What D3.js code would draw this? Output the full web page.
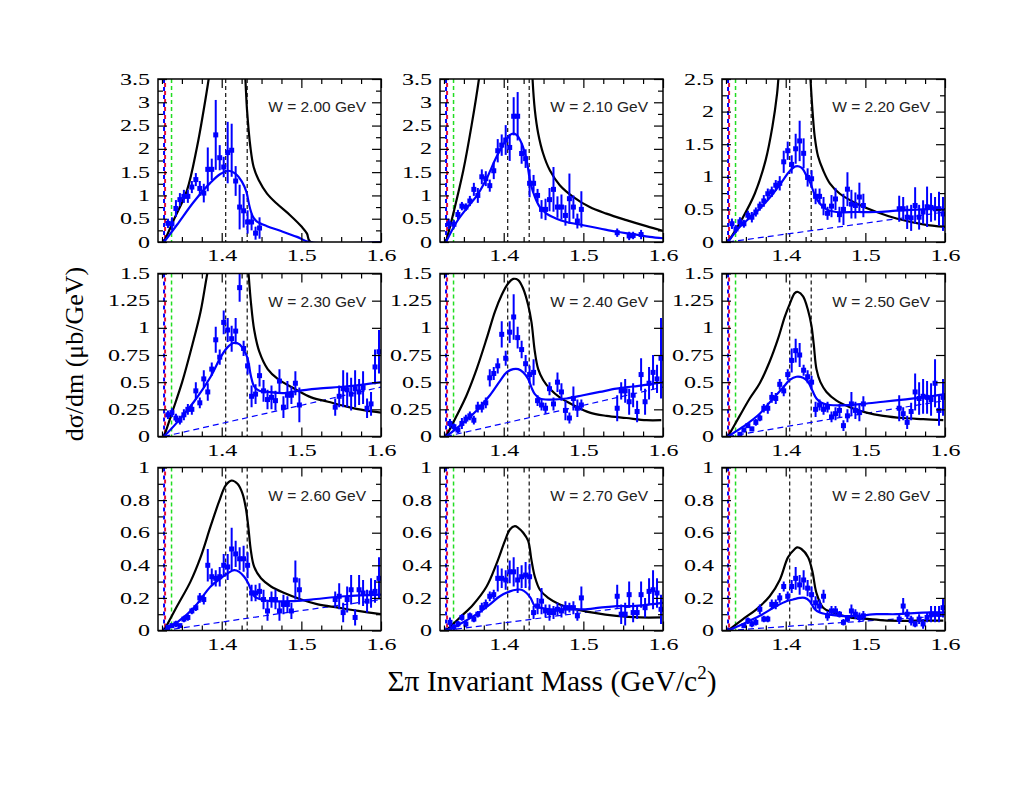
<!DOCTYPE html>
<html><head><meta charset="utf-8">
<script src="https://cdn.jsdelivr.net/npm/d3@7"></script>
<style>body{margin:0;background:#fff}</style>
</head><body>
<svg id="c" width="1024" height="788"></svg>
<script>
// ---------- DATA ----------
const wLabels = ["W = 2.00 GeV","W = 2.10 GeV","W = 2.20 GeV","W = 2.30 GeV","W = 2.40 GeV","W = 2.50 GeV","W = 2.60 GeV","W = 2.70 GeV","W = 2.80 GeV"];
const yMaxes = [3.5,3.5,2.5,1.5,1.5,1.5,1,1,1];
const xTickValues = [1.4,1.5,1.6];
const xTickLabels = ["1.4","1.5","1.6"];
const xMinorValues = [1.325,1.35,1.375,1.425,1.45,1.475,1.525,1.55,1.575];
const yTicks35 = [0,0.5,1,1.5,2,2.5,3,3.5];
const yLabels35 = ["0","0.5","1","1.5","2","2.5","3","3.5"];
const yMinor35 = [0.25,0.75,1.25,1.75,2.25,2.75,3.25];
const yTicks25 = [0,0.5,1,1.5,2,2.5];
const yLabels25 = ["0","0.5","1","1.5","2","2.5"];
const yMinor25 = [0.25,0.75,1.25,1.75,2.25];
const yTicks15 = [0,0.25,0.5,0.75,1,1.25,1.5];
const yLabels15 = ["0","0.25","0.5","0.75","1","1.25","1.5"];
const yMinor15 = [];
const yTicks10 = [0,0.2,0.4,0.6,0.8,1];
const yLabels10 = ["0","0.2","0.4","0.6","0.8","1"];
const yMinor10 = [0.1,0.3,0.5,0.7,0.9];
// thresholds (GeV): Sigma0 pi0, Sigma+ pi-, Sigma- pi+ ; Lambda(1405), KbarN
const thrSigma0Pi0 = 1.3276, thrSigmaPlusPiMinus = 1.3289, thrSigmaMinusPiPlus = 1.3370;
const markLines = [1.405, 1.432];

// data points [mass, dsigma/dm, error]
const pts200 = [[1.3325,0.40,0.10],[1.3375,0.39,0.14],[1.3425,0.72,0.18],[1.3475,0.91,0.14],[1.3525,0.98,0.14],[1.3575,0.98,0.14],[1.3625,1.18,0.13],[1.3675,1.34,0.14],[1.3725,1.15,0.16],[1.3775,1.05,0.20],[1.3825,1.56,0.47],[1.3875,1.56,0.23],[1.3925,2.30,0.75],[1.3975,1.81,0.27],[1.4025,1.61,0.22],[1.4075,1.92,0.66],[1.4125,1.97,0.57],[1.4175,1.31,0.32],[1.4225,0.75,0.48],[1.4275,0.67,0.36],[1.4325,0.43,0.25],[1.4375,0.43,0.18],[1.4425,0.19,0.14],[1.4475,0.30,0.23]];
const pts210 = [[1.331,0.39,0.11],[1.3375,0.38,0.09],[1.3425,0.59,0.10],[1.3475,0.77,0.09],[1.3525,0.75,0.08],[1.3575,0.88,0.11],[1.3625,1.13,0.14],[1.3675,1.00,0.16],[1.3725,1.40,0.16],[1.3775,1.36,0.16],[1.3825,1.21,0.13],[1.3875,1.53,0.18],[1.3925,1.96,0.25],[1.3975,2.08,0.23],[1.4025,2.19,0.32],[1.4075,2.03,0.29],[1.4125,2.70,0.41],[1.4175,2.70,0.52],[1.4225,1.90,0.22],[1.4275,1.79,0.20],[1.4325,1.26,0.30],[1.4375,1.26,0.18],[1.4425,1.00,0.14],[1.4475,0.70,0.20],[1.4525,0.70,0.23],[1.4575,0.91,0.25],[1.4625,1.13,0.48],[1.4675,0.75,0.23],[1.4725,0.75,0.27],[1.4775,0.57,0.22],[1.4825,0.93,0.54],[1.4875,0.75,0.25],[1.4925,0.45,0.16],[1.4975,0.70,0.39],[1.5425,0.20,0.09],[1.5575,0.13,0.09],[1.5625,0.14,0.08],[1.5725,0.16,0.10]];
const pts220 = [[1.3325,0.28,0.08],[1.3375,0.20,0.06],[1.3425,0.31,0.07],[1.3475,0.28,0.06],[1.3525,0.41,0.07],[1.3575,0.38,0.08],[1.3625,0.46,0.07],[1.3675,0.55,0.07],[1.3725,0.63,0.09],[1.3775,0.74,0.08],[1.3825,0.77,0.08],[1.3875,0.87,0.08],[1.3925,0.90,0.11],[1.3975,1.23,0.17],[1.4025,1.40,0.14],[1.4075,1.19,0.14],[1.4125,1.43,0.23],[1.4175,1.55,0.31],[1.4225,1.36,0.23],[1.4275,0.99,0.14],[1.4325,0.97,0.13],[1.4375,0.70,0.12],[1.4425,0.70,0.12],[1.4475,0.55,0.14],[1.4525,0.44,0.10],[1.4575,0.55,0.17],[1.4625,0.66,0.17],[1.4675,0.42,0.12],[1.4725,0.50,0.24],[1.4775,0.81,0.26],[1.4825,0.58,0.22],[1.4875,0.56,0.20],[1.4925,0.69,0.22],[1.4975,0.56,0.18],[1.5425,0.51,0.20],[1.5475,0.51,0.18],[1.5525,0.38,0.18],[1.5575,0.37,0.20],[1.5625,0.56,0.28],[1.5675,0.38,0.19],[1.5725,0.46,0.18],[1.5775,0.54,0.31],[1.5825,0.53,0.22],[1.5875,0.51,0.18],[1.5925,0.51,0.26],[1.5975,0.43,0.26]];
const pts230 = [[1.3325,0.20,0.04],[1.3375,0.22,0.04],[1.3425,0.17,0.04],[1.3475,0.15,0.04],[1.3525,0.20,0.05],[1.3575,0.25,0.05],[1.3625,0.25,0.05],[1.3675,0.42,0.08],[1.3725,0.31,0.05],[1.3775,0.53,0.08],[1.3825,0.41,0.08],[1.3875,0.62,0.06],[1.3925,0.89,0.12],[1.3975,0.73,0.07],[1.4025,1.05,0.11],[1.4075,0.98,0.11],[1.4125,0.90,0.12],[1.4175,0.97,0.12],[1.4225,1.37,0.13],[1.4275,0.81,0.07],[1.4325,0.65,0.08],[1.4375,0.37,0.10],[1.4425,0.39,0.09],[1.4475,0.56,0.10],[1.4525,0.42,0.10],[1.4575,0.34,0.09],[1.4625,0.36,0.11],[1.4675,0.33,0.09],[1.4725,0.51,0.11],[1.4775,0.27,0.10],[1.4825,0.38,0.13],[1.4875,0.38,0.08],[1.4925,0.49,0.11],[1.4975,0.29,0.16],[1.5425,0.27,0.08],[1.5475,0.37,0.10],[1.5525,0.44,0.17],[1.5575,0.43,0.16],[1.5625,0.39,0.15],[1.5675,0.44,0.17],[1.5725,0.41,0.12],[1.5775,0.45,0.15],[1.5825,0.26,0.09],[1.5875,0.30,0.11],[1.5925,0.64,0.16],[1.5975,0.78,0.20]];
const pts240 = [[1.3325,0.12,0.04],[1.3375,0.09,0.03],[1.3425,0.06,0.03],[1.3475,0.12,0.05],[1.3525,0.16,0.04],[1.3575,0.19,0.04],[1.3625,0.15,0.04],[1.3675,0.27,0.05],[1.3725,0.27,0.05],[1.3775,0.31,0.05],[1.3825,0.54,0.08],[1.3875,0.58,0.06],[1.3925,0.65,0.07],[1.3975,0.94,0.12],[1.4025,0.72,0.07],[1.4075,0.96,0.10],[1.4125,1.10,0.21],[1.4175,0.91,0.10],[1.4225,0.80,0.08],[1.4275,0.67,0.08],[1.4325,0.57,0.08],[1.4375,0.59,0.12],[1.4425,0.33,0.05],[1.4475,0.29,0.05],[1.4525,0.26,0.05],[1.4575,0.44,0.06],[1.4625,0.30,0.06],[1.4675,0.50,0.09],[1.4725,0.41,0.08],[1.4775,0.24,0.09],[1.4825,0.17,0.05],[1.4875,0.35,0.11],[1.4925,0.26,0.08],[1.4975,0.29,0.05],[1.5425,0.26,0.12],[1.5475,0.42,0.08],[1.5525,0.42,0.11],[1.5575,0.32,0.12],[1.5625,0.38,0.11],[1.5675,0.23,0.10],[1.5725,0.57,0.15],[1.5775,0.32,0.12],[1.5825,0.49,0.15],[1.5875,0.59,0.16],[1.5925,0.53,0.13],[1.5975,0.72,0.37]];
const pts250 = [[1.3425,0.02,0.01],[1.3475,0.06,0.02],[1.3525,0.10,0.02],[1.3575,0.07,0.02],[1.3625,0.13,0.03],[1.3675,0.17,0.03],[1.3725,0.26,0.04],[1.3775,0.26,0.05],[1.3825,0.36,0.05],[1.3875,0.35,0.05],[1.3925,0.48,0.05],[1.3975,0.42,0.05],[1.4025,0.57,0.05],[1.4075,0.70,0.11],[1.4125,0.79,0.11],[1.4175,0.75,0.11],[1.4225,0.61,0.05],[1.4275,0.55,0.06],[1.4325,0.50,0.06],[1.4375,0.25,0.07],[1.4425,0.29,0.05],[1.4475,0.25,0.05],[1.4525,0.27,0.05],[1.4575,0.18,0.05],[1.4625,0.21,0.06],[1.4675,0.24,0.06],[1.4725,0.10,0.05],[1.4775,0.19,0.06],[1.4825,0.30,0.11],[1.4875,0.24,0.08],[1.4925,0.22,0.08],[1.4975,0.30,0.07],[1.5425,0.26,0.12],[1.5475,0.21,0.06],[1.5525,0.13,0.06],[1.5575,0.23,0.08],[1.5625,0.41,0.17],[1.5675,0.35,0.15],[1.5725,0.37,0.16],[1.5775,0.36,0.15],[1.5825,0.34,0.15],[1.5875,0.49,0.22],[1.5925,0.24,0.14],[1.5975,0.36,0.17]];
const pts260 = [[1.3325,0.02,0.01],[1.3375,0.03,0.01],[1.3425,0.04,0.02],[1.3475,0.03,0.01],[1.3525,0.07,0.02],[1.3575,0.08,0.02],[1.3625,0.12,0.02],[1.3675,0.14,0.02],[1.3725,0.20,0.03],[1.3775,0.19,0.03],[1.3825,0.40,0.10],[1.3875,0.33,0.05],[1.3925,0.32,0.05],[1.3975,0.33,0.06],[1.4025,0.40,0.07],[1.4075,0.39,0.08],[1.4125,0.50,0.13],[1.4175,0.47,0.08],[1.4225,0.44,0.07],[1.4275,0.44,0.08],[1.4325,0.40,0.08],[1.4375,0.23,0.05],[1.4425,0.23,0.05],[1.4475,0.24,0.05],[1.4525,0.19,0.06],[1.4575,0.12,0.06],[1.4625,0.19,0.05],[1.4675,0.19,0.06],[1.4725,0.12,0.06],[1.4775,0.16,0.06],[1.4825,0.16,0.05],[1.4875,0.12,0.05],[1.4925,0.31,0.12],[1.4975,0.25,0.07],[1.5425,0.19,0.05],[1.5475,0.21,0.08],[1.5525,0.11,0.06],[1.5575,0.19,0.08],[1.5625,0.25,0.09],[1.5675,0.08,0.05],[1.5725,0.25,0.09],[1.5775,0.23,0.08],[1.5825,0.18,0.07],[1.5875,0.23,0.09],[1.5925,0.24,0.07],[1.5975,0.32,0.13]];
const pts270 = [[1.3325,0.05,0.03],[1.3375,0.02,0.02],[1.3425,0.04,0.02],[1.3475,0.08,0.02],[1.3525,0.04,0.02],[1.3575,0.09,0.02],[1.3625,0.07,0.02],[1.3675,0.10,0.02],[1.3725,0.14,0.03],[1.3775,0.16,0.03],[1.3825,0.21,0.03],[1.3875,0.22,0.03],[1.3925,0.32,0.08],[1.3975,0.32,0.06],[1.4025,0.31,0.06],[1.4075,0.36,0.07],[1.4125,0.36,0.09],[1.4175,0.31,0.08],[1.4225,0.33,0.07],[1.4275,0.34,0.08],[1.4325,0.33,0.08],[1.4375,0.11,0.04],[1.4425,0.15,0.05],[1.4475,0.18,0.08],[1.4525,0.12,0.04],[1.4575,0.11,0.05],[1.4625,0.11,0.04],[1.4675,0.13,0.04],[1.4725,0.12,0.04],[1.4775,0.14,0.04],[1.4825,0.14,0.03],[1.4875,0.14,0.04],[1.4925,0.09,0.03],[1.4975,0.20,0.07],[1.5425,0.21,0.07],[1.5475,0.10,0.06],[1.5525,0.10,0.07],[1.5575,0.22,0.08],[1.5625,0.11,0.06],[1.5675,0.11,0.04],[1.5725,0.22,0.08],[1.5775,0.14,0.06],[1.5825,0.24,0.08],[1.5875,0.25,0.12],[1.5925,0.23,0.09],[1.5975,0.13,0.09]];
const pts280 = [[1.3475,0.03,0.01],[1.3525,0.06,0.02],[1.3575,0.04,0.02],[1.3625,0.05,0.02],[1.3675,0.13,0.03],[1.3725,0.07,0.02],[1.3775,0.07,0.02],[1.3825,0.16,0.03],[1.3875,0.16,0.03],[1.3925,0.20,0.03],[1.3975,0.27,0.03],[1.4025,0.21,0.03],[1.4075,0.27,0.04],[1.4125,0.32,0.07],[1.4175,0.28,0.06],[1.4225,0.31,0.06],[1.4275,0.26,0.05],[1.4325,0.22,0.05],[1.4375,0.17,0.04],[1.4425,0.15,0.04],[1.4475,0.21,0.04],[1.4525,0.09,0.03],[1.4575,0.12,0.03],[1.4625,0.12,0.03],[1.4675,0.10,0.02],[1.4725,0.05,0.02],[1.4775,0.07,0.02],[1.4825,0.12,0.04],[1.4875,0.10,0.03],[1.4925,0.08,0.03],[1.4975,0.09,0.03],[1.5425,0.07,0.03],[1.5475,0.15,0.05],[1.5525,0.10,0.03],[1.5575,0.06,0.03],[1.5625,0.04,0.02],[1.5675,0.07,0.03],[1.5725,0.04,0.03],[1.5775,0.08,0.03],[1.5825,0.10,0.05],[1.5875,0.10,0.05],[1.5925,0.10,0.05],[1.5975,0.14,0.06]];

// fitted model (blue solid) [mass, value]
const fit200 = [[1.3276,0],[1.3439,0.37],[1.3648,0.86],[1.3857,1.27],[1.3983,1.46],[1.4087,1.53],[1.4171,1.47],[1.4255,1.29],[1.4309,1.08],[1.4351,0.75],[1.4393,0.54],[1.4443,0.44],[1.4569,0.34],[1.4736,0.24],[1.4945,0.11],[1.5105,0],[1.6,0]];
const fit210 = [[1.3276,0],[1.3409,0.43],[1.3534,0.72],[1.3681,1.04],[1.3785,1.36],[1.391,1.83],[1.4015,2.15],[1.4098,2.32],[1.4161,2.30],[1.4224,2.12],[1.4287,1.76],[1.4337,1.26],[1.4391,0.97],[1.4454,0.75],[1.4537,0.61],[1.4663,0.50],[1.4788,0.43],[1.4997,0.36],[1.5206,0.29],[1.5415,0.22],[1.5624,0.17],[1.5833,0.11],[1.6,0.08]];
const fit220 = [[1.3276,0],[1.3422,0.23],[1.3632,0.46],[1.3841,0.74],[1.3967,0.95],[1.4051,1.09],[1.4126,1.16],[1.4197,1.14],[1.426,1.02],[1.4311,0.90],[1.4365,0.72],[1.4428,0.59],[1.4512,0.50],[1.4638,0.46],[1.4889,0.46],[1.5141,0.46],[1.5392,0.48],[1.5727,0.50],[1.6,0.51]];
const fit230 = [[1.3276,0],[1.344,0.13],[1.3651,0.32],[1.3861,0.55],[1.3987,0.73],[1.4072,0.82],[1.4147,0.86],[1.4219,0.85],[1.4282,0.79],[1.4324,0.72],[1.4366,0.56],[1.4408,0.46],[1.4472,0.42],[1.4577,0.41],[1.4787,0.40],[1.4956,0.42],[1.5208,0.44],[1.5545,0.46],[1.5798,0.48],[1.6,0.50]];
const fit240 = [[1.3276,0],[1.3451,0.10],[1.366,0.24],[1.3827,0.38],[1.3952,0.51],[1.4036,0.59],[1.4119,0.62],[1.4182,0.62],[1.4245,0.59],[1.4307,0.53],[1.4349,0.45],[1.4391,0.39],[1.4454,0.35],[1.4579,0.34],[1.4788,0.35],[1.4997,0.38],[1.5206,0.41],[1.5415,0.44],[1.5624,0.46],[1.5833,0.48],[1.6,0.50]];
const fit250 = [[1.3276,0],[1.3464,0.09],[1.3674,0.21],[1.3841,0.35],[1.3967,0.45],[1.4051,0.52],[1.4135,0.55],[1.4218,0.54],[1.4281,0.50],[1.4336,0.42],[1.4386,0.35],[1.4449,0.31],[1.4554,0.29],[1.4805,0.29],[1.4973,0.30],[1.5224,0.32],[1.5476,0.34],[1.5727,0.36],[1.6,0.39]];
const fit260 = [[1.3276,0],[1.344,0.05],[1.3651,0.14],[1.3861,0.27],[1.3987,0.32],[1.4072,0.35],[1.4156,0.37],[1.4219,0.36],[1.4282,0.33],[1.4333,0.29],[1.4366,0.25],[1.4408,0.21],[1.4493,0.19],[1.4619,0.18],[1.4872,0.18],[1.5124,0.19],[1.5545,0.21],[1.6,0.22]];
const fit270 = [[1.3276,0],[1.3451,0.04],[1.366,0.10],[1.3827,0.16],[1.3952,0.21],[1.4078,0.24],[1.4161,0.25],[1.4224,0.25],[1.4287,0.23],[1.4337,0.20],[1.4391,0.15],[1.4454,0.14],[1.4579,0.13],[1.4788,0.13],[1.4997,0.13],[1.5206,0.14],[1.5415,0.15],[1.5624,0.15],[1.5833,0.16],[1.6,0.17]];
const fit280 = [[1.3276,0],[1.3464,0.04],[1.3674,0.09],[1.3883,0.15],[1.4009,0.18],[1.4093,0.19],[1.4177,0.20],[1.4239,0.20],[1.4302,0.18],[1.4365,0.13],[1.4428,0.11],[1.4512,0.10],[1.4679,0.09],[1.4889,0.09],[1.514,0.10],[1.5392,0.10],[1.5727,0.11],[1.6,0.11]];

// model prediction (black solid) [mass, value]
const tot200 = [[1.3276,0],[1.3397,0.47],[1.3564,1.11],[1.369,2.04],[1.3773,2.83],[1.3836,3.5],[1.392,4.6],[1.40,5.5],[1.41,6.0],[1.42,5.6],[1.426,4.6],[1.4297,3.5],[1.4318,2.83],[1.436,2.04],[1.4401,1.61],[1.4464,1.33],[1.4569,1.04],[1.4694,0.82],[1.4862,0.57],[1.5008,0.32],[1.5071,0.18],[1.5113,0],[1.6,0]];
const tot210 = [[1.3276,0],[1.3367,0.61],[1.3493,1.54],[1.3597,2.51],[1.3689,3.5],[1.38,5.0],[1.395,7.0],[1.41,8.0],[1.425,7.0],[1.433,5.0],[1.4362,3.5],[1.4391,2.83],[1.4433,2.33],[1.4495,1.90],[1.4579,1.54],[1.4704,1.22],[1.4872,0.97],[1.508,0.75],[1.5289,0.61],[1.554,0.47],[1.5791,0.34],[1.6,0.24]];
const tot220 = [[1.3276,0],[1.345,0.35],[1.3611,0.74],[1.3749,1.26],[1.3833,1.77],[1.3892,2.28],[1.3908,2.5],[1.40,3.6],[1.41,4.3],[1.42,4.1],[1.428,3.2],[1.4311,2.5],[1.4336,2.02],[1.4365,1.61],[1.4407,1.31],[1.447,1.10],[1.4554,0.90],[1.468,0.74],[1.4889,0.59],[1.5141,0.46],[1.5392,0.36],[1.5727,0.27],[1.6,0.23]];
const tot230 = [[1.3276,0],[1.3377,0.22],[1.3503,0.50],[1.363,0.84],[1.3735,1.15],[1.3819,1.5],[1.395,2.0],[1.41,2.4],[1.425,2.2],[1.431,1.8],[1.4337,1.5],[1.4366,1.24],[1.4408,0.98],[1.4472,0.78],[1.4577,0.62],[1.4703,0.53],[1.4914,0.44],[1.5124,0.36],[1.5335,0.32],[1.5545,0.28],[1.5798,0.24],[1.6,0.22]];
const tot240 = [[1.3276,0],[1.3409,0.19],[1.3534,0.38],[1.366,0.62],[1.3785,0.90],[1.389,1.15],[1.3973,1.30],[1.4057,1.41],[1.4119,1.45],[1.4182,1.44],[1.4245,1.36],[1.4307,1.21],[1.4349,1.05],[1.4391,0.78],[1.4433,0.62],[1.4495,0.52],[1.4579,0.44],[1.4704,0.36],[1.4872,0.29],[1.5081,0.22],[1.5289,0.19],[1.554,0.17],[1.5791,0.15],[1.5979,0.15]];
const tot250 = [[1.3276,0],[1.3422,0.19],[1.3548,0.35],[1.3674,0.49],[1.3799,0.69],[1.3904,0.90],[1.3988,1.10],[1.4051,1.22],[1.4114,1.32],[1.4156,1.33],[1.4218,1.29],[1.4281,1.16],[1.4323,1.02],[1.4353,0.84],[1.4386,0.62],[1.4436,0.50],[1.4512,0.41],[1.4638,0.33],[1.4805,0.27],[1.5015,0.22],[1.5224,0.19],[1.5476,0.17],[1.5727,0.16],[1.5979,0.15]];
const tot260 = [[1.3276,0],[1.344,0.15],[1.3608,0.30],[1.3735,0.45],[1.3861,0.64],[1.3966,0.79],[1.405,0.89],[1.4122,0.92],[1.4198,0.90],[1.4261,0.84],[1.4303,0.75],[1.4333,0.64],[1.4366,0.49],[1.4408,0.39],[1.4493,0.32],[1.4619,0.27],[1.4787,0.23],[1.4998,0.19],[1.5208,0.16],[1.5461,0.14],[1.5714,0.12],[1.6,0.10]];
const tot270 = [[1.3276,0],[1.3451,0.08],[1.3618,0.16],[1.3785,0.27],[1.391,0.41],[1.4015,0.55],[1.4078,0.62],[1.414,0.64],[1.4182,0.63],[1.4245,0.60],[1.4307,0.55],[1.4349,0.43],[1.4391,0.33],[1.4454,0.25],[1.4558,0.20],[1.4704,0.16],[1.4913,0.13],[1.5122,0.11],[1.5415,0.09],[1.5707,0.08],[1.5979,0.08]];
const tot280 = [[1.3276,0],[1.3464,0.07],[1.3632,0.13],[1.3799,0.21],[1.3925,0.31],[1.403,0.45],[1.4114,0.50],[1.4143,0.51],[1.4197,0.50],[1.4281,0.45],[1.4336,0.36],[1.4386,0.23],[1.447,0.14],[1.4596,0.11],[1.4805,0.08],[1.5057,0.07],[1.5308,0.06],[1.5643,0.06],[1.5979,0.06]];

// background (blue dashed) [mass, value]
const bg220 = [[1.3276,0],[1.46,0.22],[1.6,0.46]];
const bg230 = [[1.3276,0],[1.46,0.22],[1.6,0.455]];
const bg240 = [[1.3276,0],[1.46,0.22],[1.6,0.455]];
const bg250 = [[1.3276,0],[1.46,0.165],[1.6,0.33]];
const bg260 = [[1.3276,0],[1.46,0.095],[1.6,0.19]];
const bg270 = [[1.3276,0],[1.46,0.085],[1.6,0.17]];
const bg280 = [[1.3276,0],[1.46,0.045],[1.6,0.09]];

// ---------- LAYOUT ----------
const panels = [
  {label:wLabels[0], ymax:yMaxes[0], yt:yTicks35, yl:yLabels35, ym:yMinor35, pts:pts200, fit:fit200, tot:tot200, bg:null},
  {label:wLabels[1], ymax:yMaxes[1], yt:yTicks35, yl:yLabels35, ym:yMinor35, pts:pts210, fit:fit210, tot:tot210, bg:null},
  {label:wLabels[2], ymax:yMaxes[2], yt:yTicks25, yl:yLabels25, ym:yMinor25, pts:pts220, fit:fit220, tot:tot220, bg:bg220},
  {label:wLabels[3], ymax:yMaxes[3], yt:yTicks15, yl:yLabels15, ym:yMinor15, pts:pts230, fit:fit230, tot:tot230, bg:bg230},
  {label:wLabels[4], ymax:yMaxes[4], yt:yTicks15, yl:yLabels15, ym:yMinor15, pts:pts240, fit:fit240, tot:tot240, bg:bg240},
  {label:wLabels[5], ymax:yMaxes[5], yt:yTicks15, yl:yLabels15, ym:yMinor15, pts:pts250, fit:fit250, tot:tot250, bg:bg250},
  {label:wLabels[6], ymax:yMaxes[6], yt:yTicks10, yl:yLabels10, ym:yMinor10, pts:pts260, fit:fit260, tot:tot260, bg:bg260},
  {label:wLabels[7], ymax:yMaxes[7], yt:yTicks10, yl:yLabels10, ym:yMinor10, pts:pts270, fit:fit270, tot:tot270, bg:bg270},
  {label:wLabels[8], ymax:yMaxes[8], yt:yTicks10, yl:yLabels10, ym:yMinor10, pts:pts280, fit:fit280, tot:tot280, bg:bg280}
];

const svg = d3.select("#c");
const colX = [158, 440, 722], rowY = [79, 273.5, 467.5];
const PW = 223, PH = 163;
const BLUE = "#0000ff";
const STRETCH = 1.5;

function stretchText(sel){
  sel.each(function(){
    const len = this.getComputedTextLength();
    d3.select(this).attr("textLength", len*STRETCH).attr("lengthAdjust","spacingAndGlyphs");
  });
}

panels.forEach((p,i)=>{
  const gx = colX[i%3], gy = rowY[Math.floor(i/3)];
  const g = svg.append("g").attr("transform",`translate(${gx},${gy})`);
  const x = d3.scaleLinear().domain([1.32,1.6]).range([0,PW]);
  const y = d3.scaleLinear().domain([0,p.ymax]).range([PH,0]);
  const cid = "clip"+i;
  g.append("clipPath").attr("id",cid).append("rect").attr("x",0).attr("y",0).attr("width",PW).attr("height",PH);
  const plot = g.append("g").attr("clip-path",`url(#${cid})`);

  // threshold lines
  const vline = (v, color, w, dash, off) => plot.append("line")
    .attr("x1",x(v)).attr("x2",x(v)).attr("y1",0).attr("y2",PH)
    .attr("stroke",color).attr("stroke-width",w).attr("stroke-dasharray",dash).attr("stroke-dashoffset",off);
  vline(thrSigma0Pi0, BLUE, 2, "4,4", 0);
  vline(thrSigmaPlusPiMinus, "#e0103a", 2, "4,4", 4);
  vline(thrSigmaMinusPiPlus, "#22dd22", 1.5, "4,3", 0);
  markLines.forEach(v=>vline(v, "#111", 1.2, "4,3", 0));

  const line = d3.line().x(d=>x(d[0])).y(d=>y(d[1])).curve(d3.curveCatmullRom.alpha(0.5));
  if (p.bg) plot.append("path").datum(p.bg).attr("d",d3.line().x(d=>x(d[0])).y(d=>y(d[1])))
      .attr("fill","none").attr("stroke",BLUE).attr("stroke-width",1.2).attr("stroke-dasharray","6,4");
  plot.append("path").datum(p.tot).attr("d",line).attr("fill","none").attr("stroke","#000").attr("stroke-width",2.2);
  plot.append("path").datum(p.fit).attr("d",line).attr("fill","none").attr("stroke",BLUE).attr("stroke-width",2.2);

  // data points
  const dg = plot.append("g");
  dg.selectAll("line.err").data(p.pts).join("line").attr("class","err")
    .attr("x1",d=>x(d[0])).attr("x2",d=>x(d[0]))
    .attr("y1",d=>y(d[1]-d[2])).attr("y2",d=>y(d[1]+d[2]))
    .attr("stroke",BLUE).attr("stroke-width",2);
  dg.selectAll("rect.pt").data(p.pts).join("rect").attr("class","pt")
    .attr("x",d=>x(d[0])-2.5).attr("y",d=>y(d[1])-2.5).attr("width",5).attr("height",5).attr("fill",BLUE);

  // axes
  const tickStyle = a => { a.select(".domain").remove(); a.selectAll("line").attr("stroke","#000").attr("stroke-width",1.2); };
  const xb = g.append("g").attr("transform",`translate(0,${PH})`)
    .call(d3.axisBottom(x).tickValues(xTickValues).tickFormat((d,k)=>xTickLabels[k]).tickSizeInner(-9).tickSizeOuter(0).tickPadding(8));
  tickStyle(xb);
  xb.selectAll("text").attr("font-family","'Liberation Serif',serif").attr("font-size",16).attr("fill","#000").call(stretchText);
  const xbm = g.append("g").attr("transform",`translate(0,${PH})`)
    .call(d3.axisBottom(x).tickValues(xMinorValues).tickFormat("").tickSizeInner(-5).tickSizeOuter(0));
  tickStyle(xbm);
  const xt = g.append("g").call(d3.axisTop(x).tickValues(xTickValues).tickFormat("").tickSizeInner(-9).tickSizeOuter(0));
  tickStyle(xt);
  const xtm = g.append("g").call(d3.axisTop(x).tickValues(xMinorValues).tickFormat("").tickSizeInner(-5).tickSizeOuter(0));
  tickStyle(xtm);

  const yl = g.append("g")
    .call(d3.axisLeft(y).tickValues(p.yt).tickFormat((d,k)=>p.yl[k]).tickSizeInner(-9).tickSizeOuter(0).tickPadding(8));
  tickStyle(yl);
  yl.selectAll("text").attr("font-family","'Liberation Serif',serif").attr("font-size",16).attr("fill","#000").call(stretchText);
  const ylm = g.append("g").call(d3.axisLeft(y).tickValues(p.ym).tickFormat("").tickSizeInner(-5).tickSizeOuter(0));
  tickStyle(ylm);
  const yr = g.append("g").attr("transform",`translate(${PW},0)`)
    .call(d3.axisRight(y).tickValues(p.yt).tickFormat("").tickSizeInner(-9).tickSizeOuter(0));
  tickStyle(yr);
  const yrm = g.append("g").attr("transform",`translate(${PW},0)`)
    .call(d3.axisRight(y).tickValues(p.ym).tickFormat("").tickSizeInner(-5).tickSizeOuter(0));
  tickStyle(yrm);

  g.append("rect").attr("x",0).attr("y",0).attr("width",PW).attr("height",PH)
    .attr("fill","none").attr("stroke","#000").attr("stroke-width",1.5);

  g.append("text").attr("x",PW-15).attr("y",33).attr("text-anchor","end")
    .attr("font-family","'Liberation Sans',Arial,sans-serif").attr("font-size",15.5).attr("fill","#222")
    .text(p.label);
});

// axis titles
svg.append("text").attr("transform","translate(83,354) rotate(-90)").attr("text-anchor","middle")
  .attr("font-family","'Liberation Serif',serif").attr("font-size",26).attr("fill","#000")
  .text("dσ/dm (μb/GeV)");
const xtitle = svg.append("text").attr("x",552).attr("y",691).attr("text-anchor","middle")
  .attr("font-family","'Liberation Serif',serif").attr("font-size",29.5).attr("fill","#000");
xtitle.append("tspan").text("Σπ Invariant Mass (GeV/c");
xtitle.append("tspan").attr("font-size",19).attr("dy",-12).text("2");
xtitle.append("tspan").attr("dy",12).text(")");
</script>
</body></html>
